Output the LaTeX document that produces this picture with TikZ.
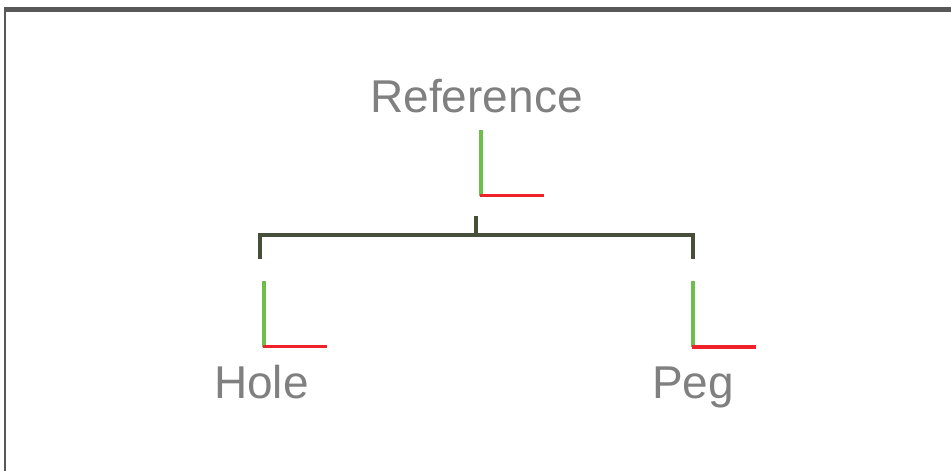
\documentclass[tikz,border=0pt]{standalone}
\usepackage{fontspec}
\setmainfont{Liberation Sans}
\usepackage{tikz}
\usetikzlibrary{positioning}

\definecolor{framegray}{HTML}{585858}
\definecolor{linkgreen}{HTML}{464F3A}
\definecolor{axisgreen}{HTML}{6CC04A}
\definecolor{axisred}{HTML}{EE2228}
\definecolor{labelgray}{HTML}{808080}

\begin{document}
\begin{tikzpicture}[x=1pt,y=-1pt,
    label/.style={anchor=base,inner sep=0pt,text=labelgray,font=\fontsize{46}{50}\selectfont},
    link/.style={draw=linkgreen,line width=4pt},
    yaxis/.style={draw=axisgreen,line width=4pt},
    xaxis/.style={draw=axisred,line width=3.5pt}]
  \useasboundingbox (0,0) rectangle (951,471);
  % outer frame
  \draw[framegray,line width=5pt] (4,9.5) -- (951,9.5);
  \draw[framegray,line width=2.5pt] (5,7) -- (5,471);

  % labels
  \node[label] (ref)  at (476.5,112) {Reference};
  \node[label] (hole) at (261.5,398) {Hole};
  \node[label] (peg)  at (693,398)   {Peg};

  % frame origins
  \coordinate (refo)  at (481,195.5);
  \coordinate (holeo) at (264,346.5);
  \coordinate (pego)  at (693,347);
  \foreach \o in {refo,holeo,pego} {
    \draw[yaxis] (\o) -- ++(0,-66);
    \draw[xaxis] ([xshift=-1pt]\o) -- ++(64,0);
  }

  % tree links
  \coordinate (top)     at (476,216);
  \coordinate (bar)     at (476,234.5);
  \coordinate (holetop) at (260,259);
  \coordinate (pegtop)  at (692.5,259);
  \draw[link] (top) -- (bar);
  \draw[link] (holetop) |- (bar) -| (pegtop);
\end{tikzpicture}
\end{document}
